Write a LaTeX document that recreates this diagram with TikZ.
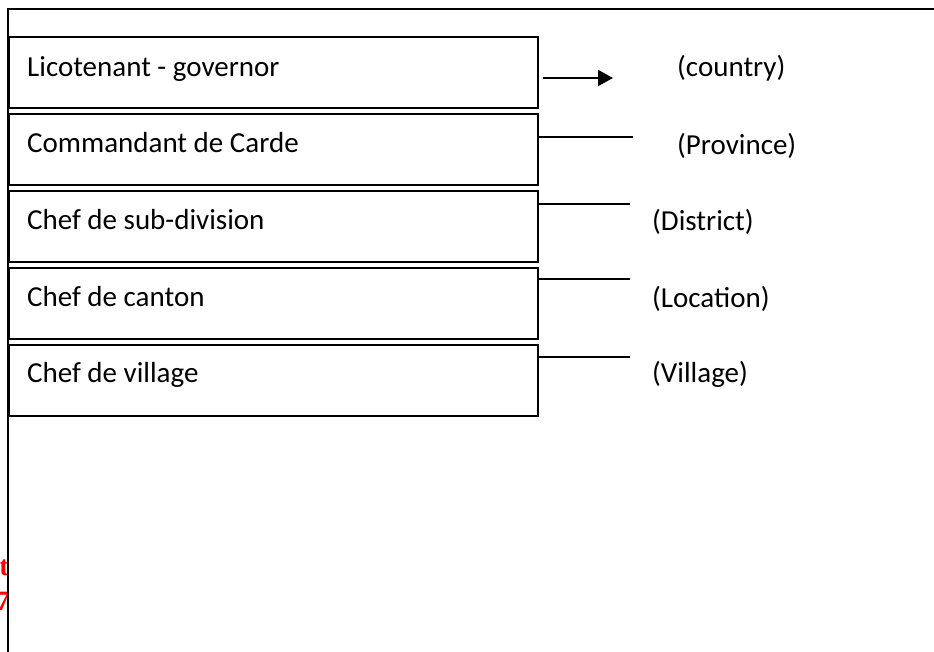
\documentclass[tikz,border=0pt]{standalone}
\usepackage{fontspec}
\setmainfont{Carlito}
\newfontfamily\redserif{Liberation Serif}
\usetikzlibrary{arrows.meta}
\begin{document}
\begin{tikzpicture}[x=1pt,y=-1pt,
  rankbox/.style={draw, line width=1.6pt, rectangle, minimum width=529pt, minimum height=71pt, anchor=north west, inner sep=0pt},
  ranktext/.style={anchor=base west, inner sep=0pt, font=\fontsize{29}{34}\selectfont},
  leveltext/.style={anchor=base west, inner sep=0pt, font=\fontsize{29}{34}\selectfont},
  link/.style={line width=1.6pt},
  frame/.style={line width=1.8pt},
  redfrag/.style={anchor=base east, inner sep=0pt, text=red, font=\redserif\bfseries\fontsize{28}{32}\selectfont}
]
\useasboundingbox (0,0) rectangle (934,652);
% red fragments cut off at left edge
\node[redfrag] (r1) at (9,575) {t};
\node[redfrag] (r2) at (10,610) {7};
% outer frame
\draw[frame] (940,9) -- (8,9) -- (8,660);
% boxes
\node[rankbox] (b1) at (8,36) {};
\node[rankbox] (b2) at (8,113) {};
\node[rankbox] (b3) at (8,190) {};
\node[rankbox] (b4) at (8,267) {};
\node[rankbox] (b5) at (8,344) {};
\node[ranktext] (t1) at (27,77) {Licotenant - governor};
\node[ranktext] (t2) at (27,153) {Commandant de Carde};
\node[ranktext] (t3) at (27,230) {Chef de sub-division};
\node[ranktext] (t4) at (27,306) {Chef de canton};
\node[ranktext] (t5) at (27,382) {Chef de village};
% level labels
\node[leveltext] (l1) at (677,77) {(country)};
\node[leveltext] (l2) at (677,155) {(Province)};
\node[leveltext] (l3) at (652,231) {(District)};
\node[leveltext] (l4) at (652,307) {(Location)};
\node[leveltext] (l5) at (652,382) {(Village)};
% connectors
\coordinate (c1) at (613,78);
\coordinate (c2) at (633,137);
\coordinate (c3) at (630,204);
\coordinate (c4) at (630,279);
\coordinate (c5) at (630,357);
\draw[line width=2.2pt, shorten <=4pt, -{Triangle[length=15pt,width=16pt]}] (b1.east |- c1) -- (c1);
\draw[link] (b2.east |- c2) -- (c2);
\draw[link] (b3.east |- c3) -- (c3);
\draw[link] (b4.east |- c4) -- (c4);
\draw[link] (b5.east |- c5) -- (c5);
\end{tikzpicture}
\end{document}
